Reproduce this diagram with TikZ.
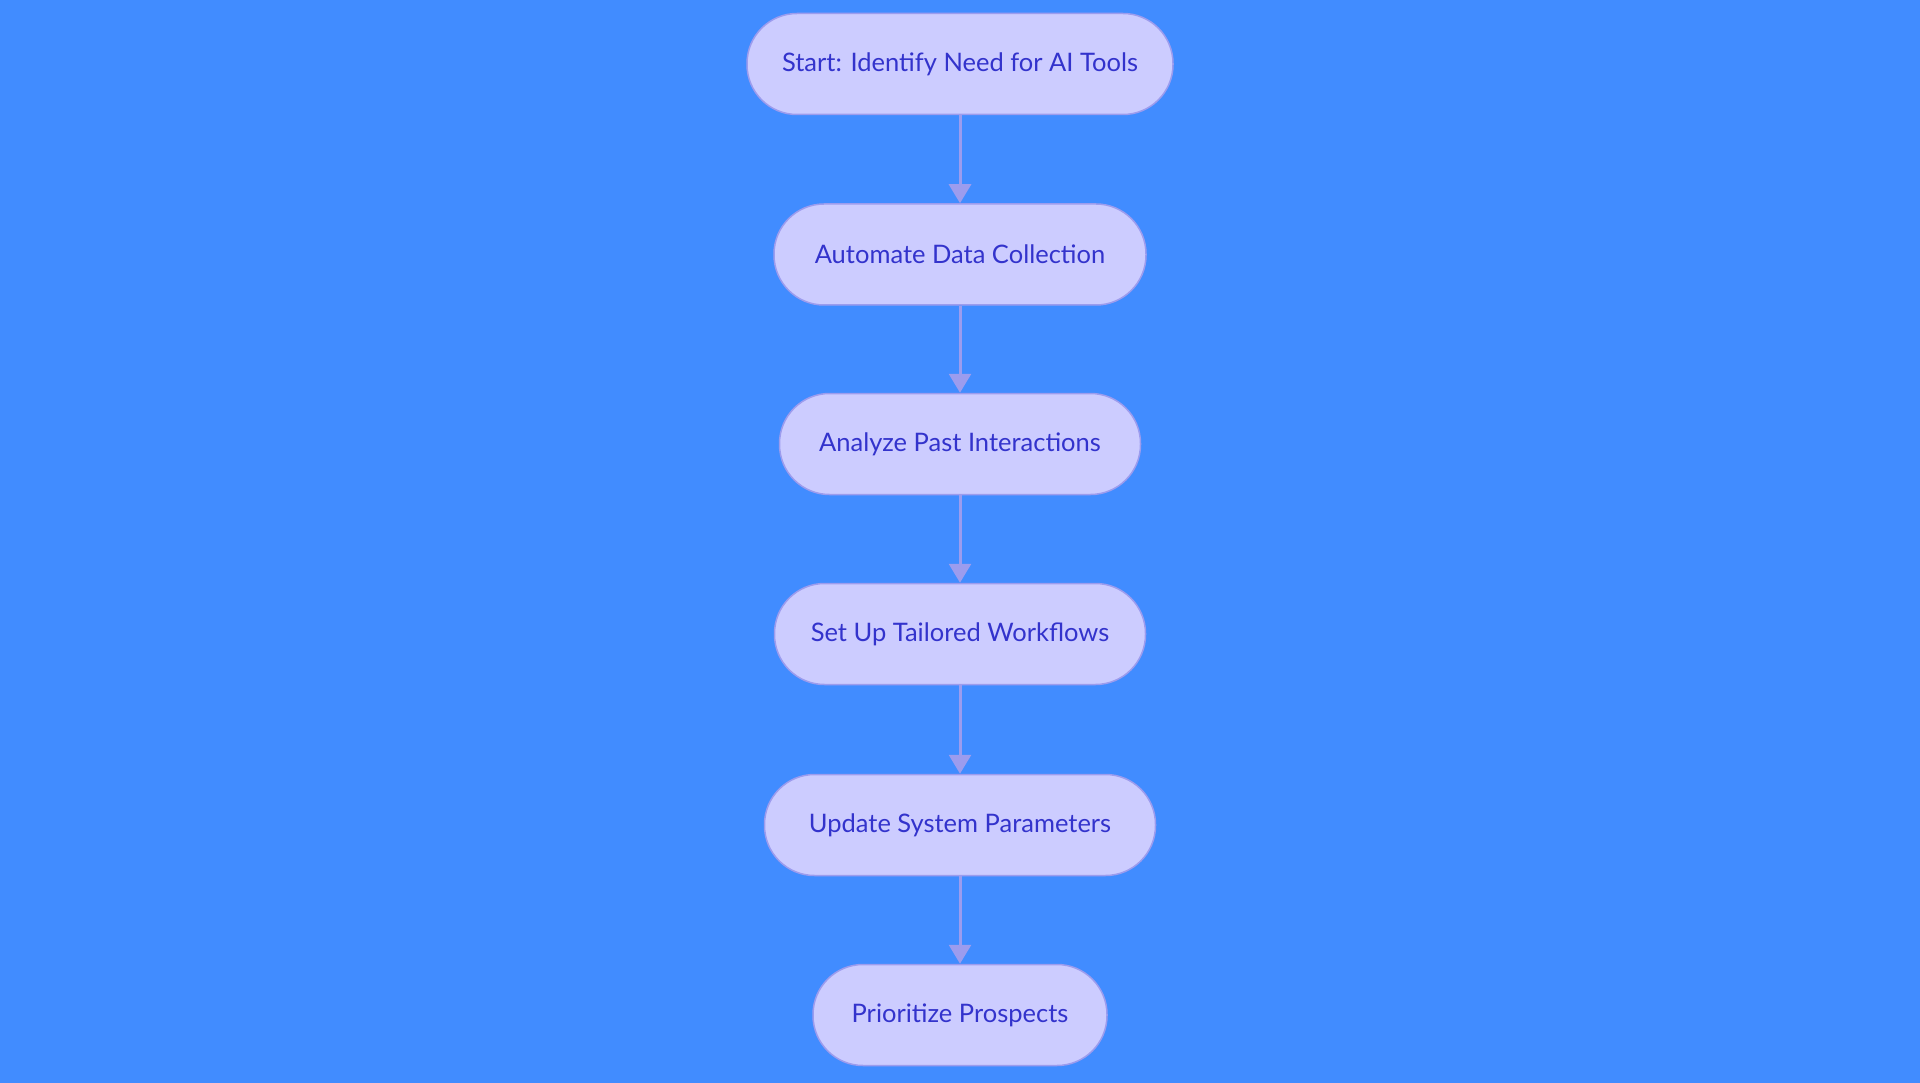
\documentclass[tikz,border=0pt]{standalone}
\usepackage{fontspec}
\setmainfont{Lato}
\usetikzlibrary{arrows.meta}

\definecolor{bgblue}{HTML}{418CFF}
\definecolor{stepfill}{HTML}{CCCCFF}
\definecolor{stepline}{HTML}{9C9CEE}
\definecolor{steptext}{HTML}{3333CC}

\begin{document}
\begin{tikzpicture}[x=1pt,y=-1pt]
\tikzstyle{stepbox}=[rectangle,rounded corners=50pt,draw=stepline,line width=1.5pt,fill=stepfill,
  minimum height=101pt,inner sep=0pt,text=steptext,font=\fontsize{25.5}{30}\selectfont]
\tikzstyle{flow}=[draw=stepline,line width=3pt,-{Triangle[length=19pt,width=22pt]}]
\fill[bgblue] (0,0) rectangle (1920,1083);
\useasboundingbox (0,0) rectangle (1920,1083);
\foreach \name/\ypos/\bw/\txt in {
	s1/64/426/{Start: Identify Need for AI Tools},
	s2/254.5/372/{Automate Data Collection},
	s3/444/361/{Analyze Past Interactions},
	s4/634/371/{Set Up Tailored Workflows},
	s5/825/391/{Update System Parameters},
	s6/1015/294/{Prioritize Prospects}}
	\node[stepbox,minimum width=\bw pt] (\name) at (960,\ypos) {\txt};
	\draw[flow] (s1) -- (s2);
	\draw[flow] (s2) -- (s3);
	\draw[flow] (s3) -- (s4);
	\draw[flow] (s4) -- (s5);
	\draw[flow] (s5) -- (s6);
\end{tikzpicture}
\end{document}
